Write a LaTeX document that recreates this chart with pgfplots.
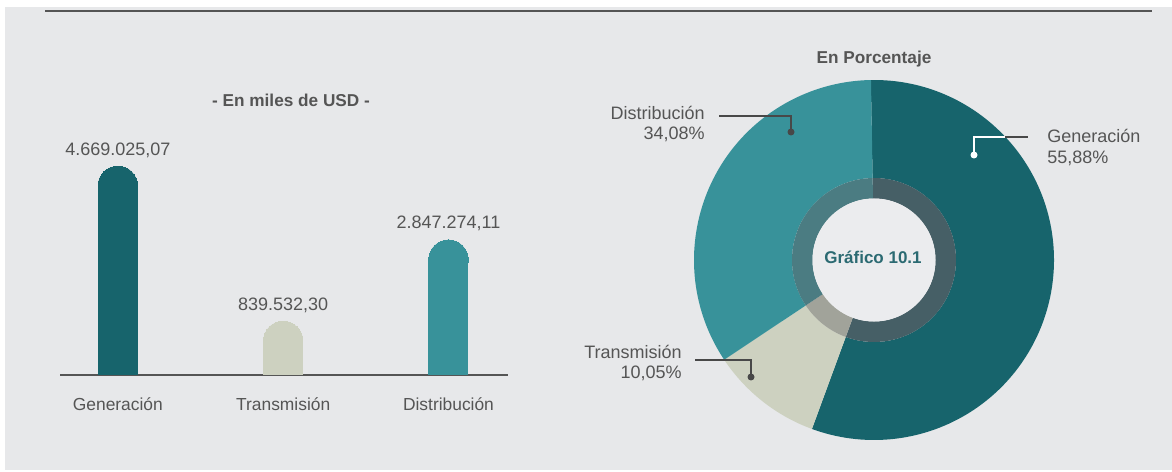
\documentclass[border=0pt]{standalone}
\usepackage{fontspec}
\setmainfont{Liberation Sans}
\usepackage{pgfplots}
\pgfplotsset{compat=1.18}
\definecolor{bg}{HTML}{E7E8EA}
\definecolor{gen}{HTML}{17646C}
\definecolor{tra}{HTML}{CDD1C0}
\definecolor{dis}{HTML}{38929A}
\definecolor{genr}{HTML}{465F66}
\definecolor{trar}{HTML}{A1A39A}
\definecolor{disr}{HTML}{4B7C82}
\definecolor{txt}{HTML}{555555}
\definecolor{ctr}{HTML}{EBECEE}
\definecolor{ctrtxt}{HTML}{2B6A72}
\def\pGen{55.88}\def\pTra{10.05}\def\pDis{34.08}
\begin{document}
\begin{tikzpicture}
\pgfmathsetmacro\aA{91}
\pgfmathsetmacro\aB{\aA-\pGen*3.6}
\pgfmathsetmacro\aC{\aB-\pTra*3.6}
\pgfmathsetmacro\aD{\aC-\pDis*3.6}
% background
\fill[white] (0,0) rectangle (586pt,235.5pt);
\fill[bg] (2.5pt,0.5pt) rectangle (586pt,232pt);
\draw[color=txt, line width=1.1pt] (22.5pt,230pt) -- (576pt,230pt);
% bar chart
\begin{axis}[at={(30pt,48pt)}, anchor=south west, scale only axis,
  width=224pt, height=121.5pt, xmin=-0.35, xmax=2.36, ymin=0, ymax=6000000,
  hide y axis, axis x line=bottom, x axis line style={draw=txt, line width=1pt, -},
  xtick={0,1,2}, xticklabels={Generación,Transmisión,Distribución},
  major tick length=0pt,
  xticklabel style={font=\fontsize{8.7}{10}\selectfont, text=txt, anchor=center, yshift=-14.5pt},
  clip=false,
  nodes near coords style={anchor=center, yshift=18pt, font=\fontsize{9}{10}\selectfont, text=txt}]
\addplot[ybar, bar width=20pt, bar shift=0pt, fill=gen, draw=none, point meta=explicit symbolic, nodes near coords] coordinates {(0,4669025.07) [4.669.025,07]};
\addplot[only marks, color=gen, mark=*, mark size=9.9pt, mark options={draw=gen, fill=gen, line width=0pt}] coordinates {(0,4669025.07)};
\addplot[ybar, bar width=20pt, bar shift=0pt, fill=tra, draw=none, point meta=explicit symbolic, nodes near coords] coordinates {(1,839532.30) [839.532,30]};
\addplot[only marks, color=tra, mark=*, mark size=9.9pt, mark options={draw=tra, fill=tra, line width=0pt}] coordinates {(1,839532.30)};
\addplot[ybar, bar width=20pt, bar shift=0pt, fill=dis, draw=none, point meta=explicit symbolic, nodes near coords] coordinates {(2,2847274.11) [2.847.274,11]};
\addplot[only marks, color=dis, mark=*, mark size=9.9pt, mark options={draw=dis, fill=dis, line width=0pt}] coordinates {(2,2847274.11)};
\end{axis}
% donut chart
\begin{axis}[at={(437pt,105.5pt)}, anchor=center, scale only axis,
  x=0.5pt, y=0.5pt, xmin=-200, xmax=200, ymin=-200, ymax=200, hide axis, clip=false]
\addplot[draw=none] coordinates {(0,0)};
\fill[gen] ([shift={(axis cs:0,0)}]\aA:90pt) arc[start angle=\aA, end angle=\aB, radius=90pt] -- ([shift={(axis cs:0,0)}]\aB:41pt) arc[start angle=\aB, end angle=\aA, radius=41pt] -- cycle;
\fill[tra] ([shift={(axis cs:0,0)}]\aB:90pt) arc[start angle=\aB, end angle=\aC, radius=90pt] -- ([shift={(axis cs:0,0)}]\aC:41pt) arc[start angle=\aC, end angle=\aB, radius=41pt] -- cycle;
\fill[dis] ([shift={(axis cs:0,0)}]\aC:90pt) arc[start angle=\aC, end angle=\aD, radius=90pt] -- ([shift={(axis cs:0,0)}]\aD:41pt) arc[start angle=\aD, end angle=\aC, radius=41pt] -- cycle;
\fill[genr] ([shift={(axis cs:0,0)}]\aA:41pt) arc[start angle=\aA, end angle=\aB, radius=41pt] -- ([shift={(axis cs:0,0)}]\aB:30.75pt) arc[start angle=\aB, end angle=\aA, radius=30.75pt] -- cycle;
\fill[trar] ([shift={(axis cs:0,0)}]\aB:41pt) arc[start angle=\aB, end angle=\aC, radius=41pt] -- ([shift={(axis cs:0,0)}]\aC:30.75pt) arc[start angle=\aC, end angle=\aB, radius=30.75pt] -- cycle;
\fill[disr] ([shift={(axis cs:0,0)}]\aC:41pt) arc[start angle=\aC, end angle=\aD, radius=41pt] -- ([shift={(axis cs:0,0)}]\aD:30.75pt) arc[start angle=\aD, end angle=\aC, radius=30.75pt] -- cycle;
\fill[ctr] ([shift={(axis cs:0,0)}]0:30.75pt) arc[start angle=0, end angle=360, radius=30.75pt] -- cycle;
\end{axis}
% annotations (pixel units)
\begin{scope}[x=0.5pt, y=0.5pt]
\node[font=\bfseries\fontsize{8.6}{10}\selectfont, text=txt] at (291,371) {- En miles de USD -};
\node[font=\bfseries\fontsize{8.6}{10}\selectfont, text=txt] at (874,412) {En Porcentaje};
\node[font=\bfseries\fontsize{8.5}{10}\selectfont, text=ctrtxt] at (873,214) {Gráfico 10.1};
\node[align=right, anchor=east, font=\fontsize{9}{10}\selectfont, text=txt, inner sep=0pt] at (705,347) {Distribución\\34,08\%};
\node[align=left, anchor=west, font=\fontsize{9}{10.5}\selectfont, text=txt, inner sep=0pt] at (1047,323.5) {Generación\\55,88\%};
\node[align=right, anchor=east, font=\fontsize{9}{10}\selectfont, text=txt, inner sep=0pt] at (682,108) {Transmisión\\10,05\%};
\draw[txt!85!black, line width=1pt] (719,355) -- (791,355) -- (791,339);
\fill[txt!85!black] (791,339) circle[radius=3.5];
\draw[white, line width=1pt] (974,316) -- (974,334) -- (1005,334);
\draw[txt!85!black, line width=1pt] (1005,334) -- (1028,334);
\fill[white] (974,316) circle[radius=3.5];
\draw[txt!85!black, line width=1pt] (695,111) -- (751,111) -- (751,94);
\fill[txt!85!black] (751,94) circle[radius=3.5];
\end{scope}
\end{tikzpicture}
\end{document}
